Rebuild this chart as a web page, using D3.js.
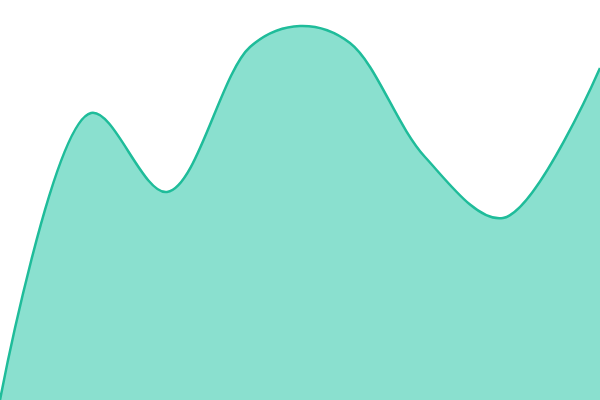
<!DOCTYPE html>
<html><head><meta charset="utf-8">
<script src="https://cdn.jsdelivr.net/npm/d3@7"></script>
<style>html,body{margin:0;padding:0;background:#fff;overflow:hidden}</style>
</head><body>
<svg id="c" width="600" height="400"></svg>
<script>
const positions = [0, 91, 167, 250, 300, 350, 425, 503, 600];
const values = [0, 71.75, 52, 88.25, 93.5, 89.25, 60.75, 45.5, 83];

const W = 600, H = 400;
const svg = d3.select("#c");
const x = d3.scaleLinear().domain([0, 600]).range([0, W]);
const y = d3.scaleLinear().domain([0, 100]).range([H, 0]);
const data = positions.map((p, i) => ({p, v: values[i]}));

const curve = d3.curveCatmullRom.alpha(0.5);
const area = d3.area().x(d => x(d.p)).y0(H).y1(d => y(d.v)).curve(curve);
const line = d3.line().x(d => x(d.p)).y(d => y(d.v)).curve(curve);

svg.append("path").datum(data).attr("d", area).attr("fill", "#8ae0cf");
svg.append("path").datum(data).attr("d", line).attr("fill", "none").attr("stroke", "#1fbc9a").attr("stroke-width", 2.5);
</script>
</body></html>
